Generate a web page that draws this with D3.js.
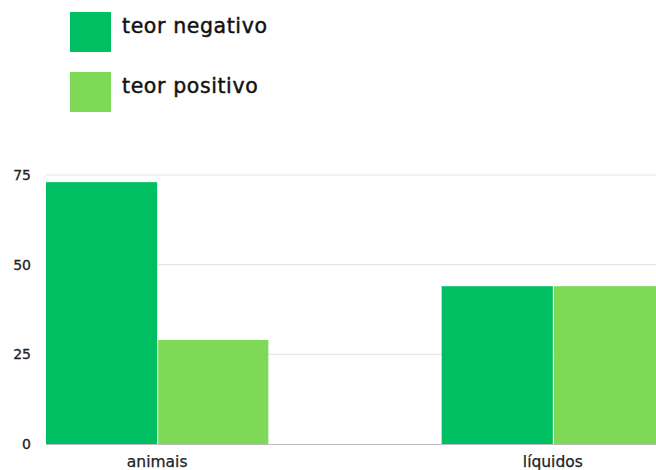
<!DOCTYPE html>
<html>
<head>
<meta charset="utf-8">
<script src="https://cdn.jsdelivr.net/npm/d3@7/dist/d3.min.js"></script>
<style>
  html, body { margin: 0; padding: 0; background: #fff; }
  svg { display: block; font-family: "DejaVu Sans", "Noto Sans", sans-serif; }
</style>
</head>
<body>
<svg id="chart" width="656" height="470"></svg>
<script>
// Categories, series and values
const categories = ["animais", "líquidos"];
const seriesNames = ["teor negativo", "teor positivo"];
const teorNegativo = [73, 44];
const teorPositivo = [29, 44];
const yTicks = [0, 25, 50, 75];
const colors = ["#00BF63", "#7ED957"];

const svg = d3.select("#chart");

const rows = categories.map((c, i) => ({
  category: c,
  values: [teorNegativo[i], teorPositivo[i]]
}));

// Scales
const x0 = d3.scaleBand()
  .domain(categories)
  .range([46, 664])
  .paddingInner(0.438)
  .paddingOuter(0);

const x1 = d3.scaleBand()
  .domain(seriesNames)
  .range([0, x0.bandwidth()])
  .padding(0);

const y = d3.scaleLinear()
  .domain([0, 75])
  .range([444, 175]);

// Gridlines
svg.append("g")
  .selectAll("line")
  .data(yTicks.filter(t => t !== 0))
  .join("line")
  .attr("x1", 46)
  .attr("x2", 656)
  .attr("y1", d => y(d))
  .attr("y2", d => y(d))
  .attr("stroke", "#e6e6e6")
  .attr("stroke-width", 1.2);

// Y tick labels
svg.append("g")
  .selectAll("text")
  .data(yTicks)
  .join("text")
  .attr("x", 31)
  .attr("y", d => y(d))
  .attr("dy", "0.35em")
  .attr("text-anchor", "end")
  .attr("font-size", 14)
  .attr("fill", "#222")
  .attr("stroke", "#222")
  .attr("stroke-width", 0.3)
  .text(d => d);

// Bars
const groups = svg.append("g")
  .selectAll("g")
  .data(rows)
  .join("g")
  .attr("transform", d => `translate(${x0(d.category)},0)`);

groups.selectAll("rect")
  .data(d => d.values.map((v, i) => ({ key: seriesNames[i], value: v, i })))
  .join("rect")
  .attr("x", d => x1(d.key) + (d.i === 1 ? 1 : 0))
  .attr("width", d => x1.bandwidth() - (d.i === 1 ? 1 : 0))
  .attr("y", d => y(d.value))
  .attr("height", d => y(0) - y(d.value))
  .attr("fill", d => colors[d.i]);

// Baseline
svg.append("line")
  .attr("x1", 46)
  .attr("x2", 656)
  .attr("y1", y(0) + 0.5)
  .attr("y2", y(0) + 0.5)
  .attr("stroke", "#bdbdbd")
  .attr("stroke-width", 1);

// Category labels
svg.append("g")
  .selectAll("text")
  .data(categories)
  .join("text")
  .attr("x", d => x0(d) + x0.bandwidth() / 2)
  .attr("y", 467)
  .attr("text-anchor", "middle")
  .attr("font-size", 15.5)
  .attr("fill", "#222")
  .attr("stroke", "#222")
  .attr("stroke-width", 0.25)
  .text(d => d);

// Legend
const legend = svg.append("g")
  .selectAll("g")
  .data(seriesNames)
  .join("g")
  .attr("transform", (d, i) => `translate(70,${12 + i * 60})`);

legend.append("rect")
  .attr("width", 41)
  .attr("height", 40)
  .attr("fill", (d, i) => colors[i]);

legend.append("text")
  .attr("x", 52)
  .attr("y", 21)
  .attr("font-size", 20.5)
  .attr("letter-spacing", 0.6)
  .attr("fill", "#111")
  .attr("stroke", "#111")
  .attr("stroke-width", 0.45)
  .text(d => d);
</script>
</body>
</html>
